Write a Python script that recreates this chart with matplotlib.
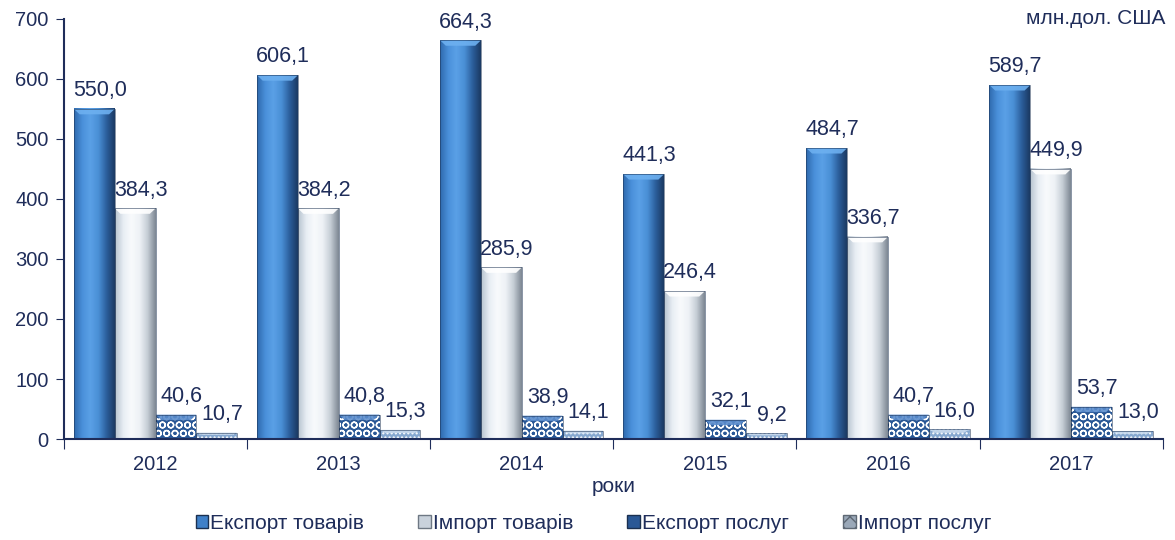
import numpy as np
import matplotlib.pyplot as plt
from matplotlib.patches import Rectangle, Polygon, Patch
from matplotlib.colors import LinearSegmentedColormap

years = ["2012", "2013", "2014", "2015", "2016", "2017"]
export_goods = [550.0, 606.1, 664.3, 441.3, 484.7, 589.7]
import_goods = [384.3, 384.2, 285.9, 246.4, 336.7, 449.9]
export_services = [40.6, 40.8, 38.9, 32.1, 40.7, 53.7]
import_services = [10.7, 15.3, 14.1, 9.2, 16.0, 13.0]
series_names = ["Експорт товарів", "Імпорт товарів", "Експорт послуг", "Імпорт послуг"]

navy = "#1F2D5A"
plt.rcParams["font.family"] = ["Liberation Sans", "DejaVu Sans"]

# gradient colour maps (left -> right across the bar)
cm_blue = LinearSegmentedColormap.from_list(
    "b", ["#2F6AAE", "#4A90DA", "#5AA0E6", "#4A8FD6", "#2C5F9C", "#1B3A63"])
cm_white = LinearSegmentedColormap.from_list(
    "w", ["#B8C4D0", "#E8EEF4", "#F8FAFC", "#EEF2F6", "#C6CED6", "#7E8894"])

fig = plt.figure(figsize=(11.75, 5.4), dpi=100)
ax = fig.add_axes([0.0545, 0.187, 0.935, 0.778])
ax.set_xlim(-0.5, len(years) - 0.5)
ax.set_ylim(0, 700)

bw = 0.223
offsets = np.array([-1.5, -0.5, 0.5, 1.5]) * bw
grad = np.linspace(0, 1, 64)[None, :]


def bevel_bar(x0, h, cmap, top_col, hatch=None, face=None):
    x1 = x0 + bw
    if face is None:
        ax.imshow(grad, cmap=cmap, extent=[x0, x1, 0, h], aspect="auto",
                  zorder=2, interpolation="bicubic")
    else:
        ax.add_patch(Rectangle((x0, 0), bw, h, facecolor=face, lw=0, zorder=2))
    if hatch:
        ax.add_patch(Rectangle((x0, 0), bw, h, facecolor="none", hatch=hatch,
                               edgecolor="white", lw=0, zorder=3))
    # bevelled top face
    d = min(9.0, h * 0.35)
    dx = bw * 0.14
    ax.add_patch(Polygon([(x0, h), (x1, h), (x1 - dx, h - d), (x0 + dx, h - d)],
                         closed=True, facecolor=top_col, lw=0, zorder=4, alpha=0.9))
    ax.add_patch(Rectangle((x0, 0), bw, h, facecolor="none",
                           edgecolor="#1B3050", lw=0.6, zorder=5, alpha=0.6))


series = [export_goods, import_goods, export_services, import_services]
for i in range(len(years)):
    bevel_bar(i + offsets[0] - bw / 2, export_goods[i], cm_blue, "#6DB0F0")
    bevel_bar(i + offsets[1] - bw / 2, import_goods[i], cm_white, "#FFFFFF")
    bevel_bar(i + offsets[2] - bw / 2, export_services[i], None, "#5A8CCC",
              hatch="OO", face="#2A5896")
    bevel_bar(i + offsets[3] - bw / 2, import_services[i], None, "#C8DAEE",
              hatch="....", face="#86A8D0")
    for k, vals in enumerate(series):
        ax.text(i + offsets[k] + 0.03, vals[i] + 13, f"{vals[i]:.1f}".replace(".", ","),
                ha="center", va="bottom", fontsize=15.5, color=navy, zorder=6)

ax.set_yticks(range(0, 701, 100))
ax.set_xticks(np.arange(-0.5, len(years)), minor=False)
ax.set_xticklabels([])
ax.tick_params(axis="x", length=7, color=navy, direction="out")
ax.tick_params(axis="y", length=6, color=navy, labelsize=14.5, labelcolor=navy, pad=5)
for i, y in enumerate(years):
    ax.text(i, -27, y, ha="center", va="top", fontsize=14.5, color=navy)
ax.text(2.5, -64, "роки", ha="center", va="top", fontsize=15, color=navy)

for s in ["top", "right"]:
    ax.spines[s].set_visible(False)
for s in ["left", "bottom"]:
    ax.spines[s].set_color(navy)
    ax.spines[s].set_linewidth(1.5)
ax.spines["bottom"].set_zorder(7)

fig.text(0.992, 0.966, "млн.дол. США", ha="right", va="center", fontsize=15, color=navy)

handles = [Patch(facecolor="#3F80C8", edgecolor="#1B3050"),
           Patch(facecolor="#C9D2DC", edgecolor="#6E7884"),
           Patch(facecolor="#2A5896", edgecolor="#1B3050"),
           Patch(facecolor="#9AA8B8", edgecolor="#5E6874", hatch="xx")]
leg = fig.legend(handles, series_names, loc="center", bbox_to_anchor=(0.505, 0.031),
                 ncol=4, frameon=False, fontsize=15, handlelength=0.6, handleheight=0.6,
                 handletextpad=0.1, columnspacing=2.6)
for t in leg.get_texts():
    t.set_color(navy)

fig.savefig("out.png", dpi=100)
